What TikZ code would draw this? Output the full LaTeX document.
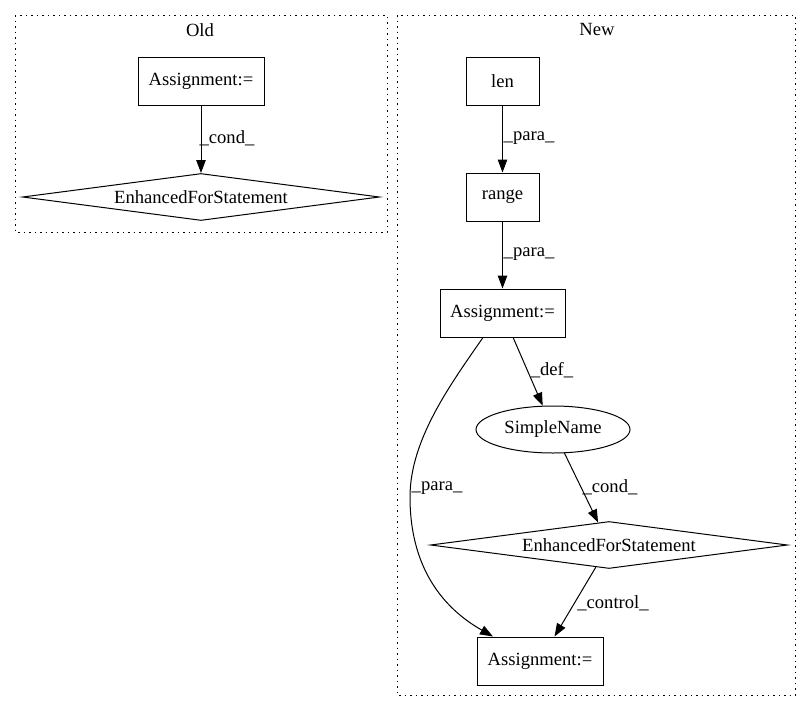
\documentclass[tikz,border=0pt]{standalone}
\usepackage{fontspec}
\setmainfont{Liberation Serif}
\usetikzlibrary{shapes.geometric,arrows.meta,calc}
\begin{document}
\begin{tikzpicture}[x=1pt,y=-1pt,
  every node/.style={font=\fontsize{18.6}{22}\selectfont},
  box/.style={draw,line width=1pt,rectangle,minimum height=48pt,inner sep=0pt},
  dia/.style={draw,line width=1pt,diamond,shape aspect=7.4,minimum width=357pt,minimum height=47pt,inner sep=0pt},
  ell/.style={draw,line width=1pt,ellipse,minimum width=154pt,minimum height=47pt,inner sep=0pt},
  edge/.style={draw,line width=1pt,-{Triangle[length=13pt,width=9.5pt]}},
  elab/.style={inner sep=0pt},
  cluster/.style={draw,line width=1pt,dash pattern=on 1.5pt off 4pt}]
\useasboundingbox (0,0) rectangle (811,712);
% clusters
\draw[cluster] (15,15) rectangle (387,232);
\draw[cluster] (397,15) rectangle (795,695);
\node[elab] (oldlab) at (200,30) {Old};
\node[elab] (newlab) at (597,30) {New};
% Old
\node[box,minimum width=126pt] (oldA) at (201,81) {Assignment:=};
\node[dia] (oldD) at (201,197) {EnhancedForStatement};
\draw[edge] (oldA) -- (oldD);
\node[elab] (l1) at (227,138) {\_cond\_};
% New
\node[box,minimum width=73pt] (len) at (502.5,81) {len};
\node[box,minimum width=73pt] (range) at (502.5,197) {range};
\node[box,minimum width=125pt] (newA) at (502.5,313) {Assignment:=};
\node[ell] (sn) at (553,429.5) {SimpleName};
\node[dia] (newD) at (609,545) {EnhancedForStatement};
\node[box,minimum width=126pt] (bot) at (540,661) {Assignment:=};
\draw[edge] (len) -- (range);
\node[elab] (l2) at (529,138) {\_para\_};
\draw[edge] (range) -- (newA);
\node[elab] (l3) at (529,254) {\_para\_};
\draw[edge] (newA) -- (sn);
\node[elab] (l4) at (552,370) {\_def\_};
\draw[edge] (sn) -- (newD);
\node[elab] (l5) at (610,487) {\_cond\_};
\draw[edge] (newD) -- (bot);
\node[elab] (l6) at (613,603) {\_control\_};
\draw[edge] ([xshift=-19.5pt]newA.south) .. controls (450,385) and (410,440) .. (410,497)
  .. controls (410,575) and (450,612) .. ([xshift=-47pt]bot.north);
\node[elab] (l7) at (437,488) {\_para\_};
\end{tikzpicture}
\end{document}
